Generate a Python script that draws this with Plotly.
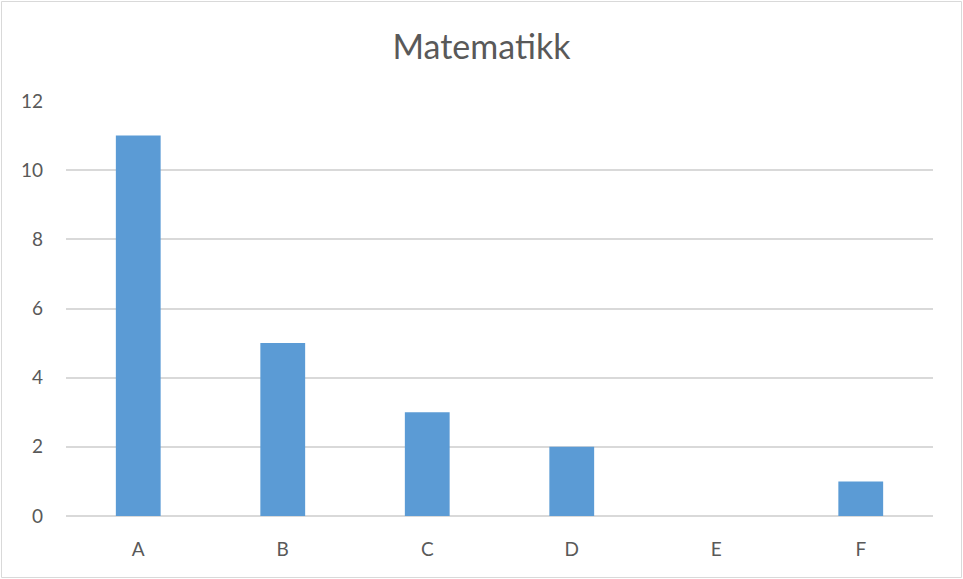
import plotly.graph_objects as go

categories = ["A", "B", "C", "D", "E", "F"]
values = [11, 5, 3, 2, 0, 1]
y_ticks = [0, 2, 4, 6, 8, 10, 12]

TEXT = "#595959"
GRID = "#D9D9D9"

fig = go.Figure(go.Bar(
    x=categories, y=values,
    marker=dict(color="#5B9BD5", line=dict(width=0)),
    width=0.31,
))

fig.update_layout(
    width=963, height=579,
    margin=dict(l=66, r=30, t=101, b=63),
    paper_bgcolor="white", plot_bgcolor="white",
    font=dict(family="Lato, Open Sans, sans-serif", color=TEXT, size=19),
    title=dict(text="Matematikk", x=0.5, xanchor="center", y=0.918, yanchor="middle",
               font=dict(size=34, color=TEXT)),
    showlegend=False,
    # chart border, like the outline of an office chart
    shapes=[dict(type="rect", xref="paper", yref="paper",
                 x0=(1.5 - 66) / 867, x1=(961.5 - 66) / 867,
                 y0=(516 - 577.5) / 415, y1=(516 - 1.5) / 415,
                 line=dict(color="#D9D9D9", width=1), fillcolor="rgba(0,0,0,0)",
                 layer="below")],
)

fig.update_xaxes(showgrid=False, showline=False, zeroline=False, ticks="",
                 ticklabelstandoff=20)
fig.update_yaxes(range=[0, 12], tickvals=y_ticks, showgrid=True, gridcolor=GRID,
                 gridwidth=1.5, zeroline=True, zerolinecolor=GRID, zerolinewidth=1.5,
                 showline=False, ticks="", ticklabelstandoff=22)

fig.write_html("out.html", config={"displayModeBar": False},
               post_script="document.body.style.margin='0';document.body.style.overflow='hidden';")
